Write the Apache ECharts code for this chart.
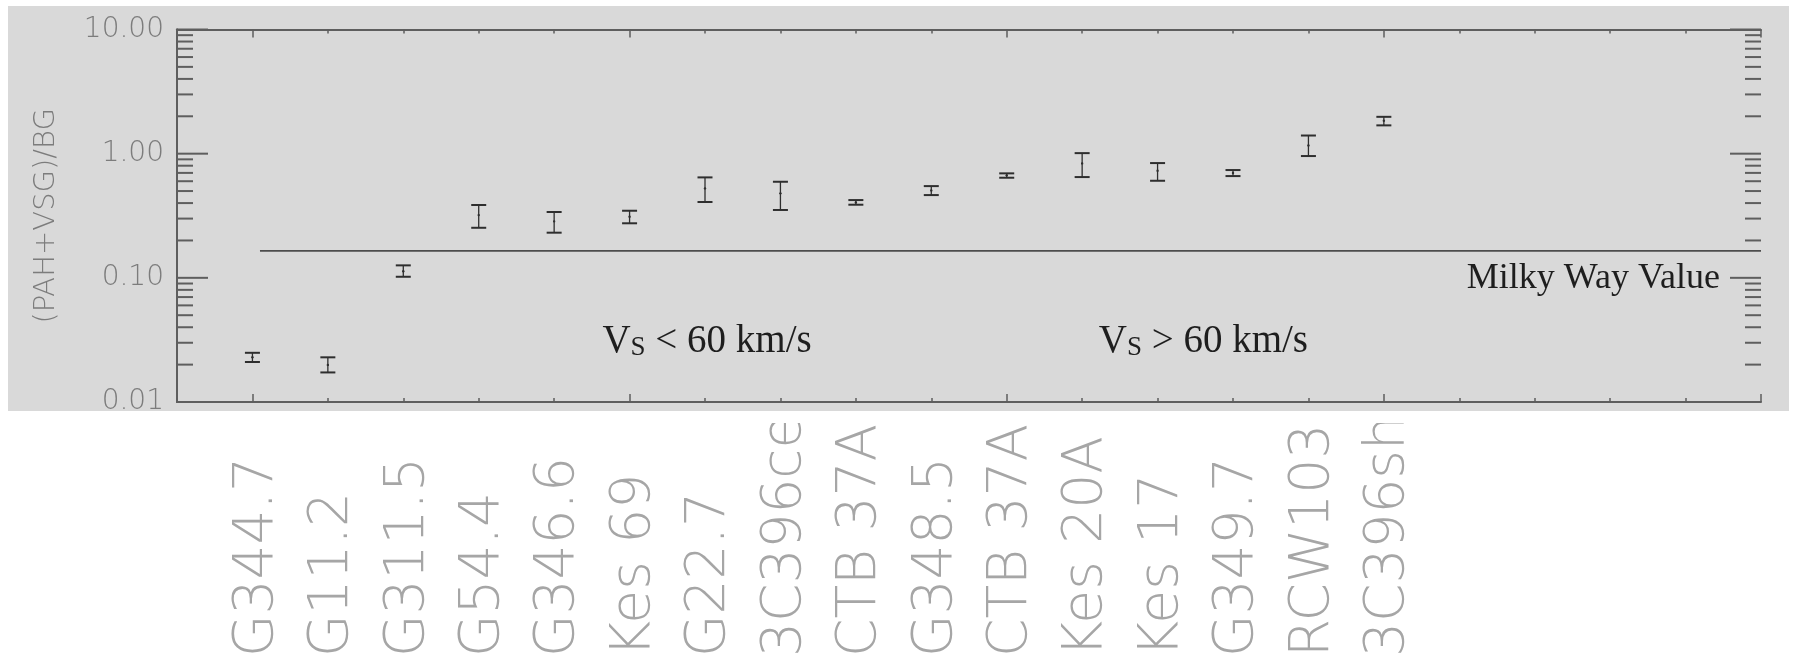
<!DOCTYPE html>
<html><head><meta charset="utf-8">
<script src="https://cdn.jsdelivr.net/npm/echarts@6/dist/echarts.min.js"></script>
<style>html,body{margin:0;padding:0;background:#fff;}#c{width:1793px;height:660px;}</style>
</head><body><div id="c"></div>
<script>
// ---- data ----
const categories = ['G344.7','G11.2','G311.5','G54.4','G346.6','Kes 69','G22.7','3C396center','CTB 37A','G348.5','CTB 37A','Kes 20A','Kes 17','G349.7','RCW103','3C396shell'];
const centerValues = [0.0229, 0.0199, 0.113, 0.320, 0.285, 0.310, 0.525, 0.479, 0.405, 0.506, 0.669, 0.835, 0.729, 0.698, 1.166, 1.84];
const lowerValues  = [0.0210, 0.0173, 0.102, 0.253, 0.231, 0.275, 0.408, 0.352, 0.388, 0.464, 0.640, 0.648, 0.605, 0.660, 0.957, 1.69];
const upperValues  = [0.0249, 0.0229, 0.126, 0.386, 0.339, 0.347, 0.644, 0.594, 0.423, 0.548, 0.694, 1.010, 0.840, 0.738, 1.400, 1.98];
const yMajorTickValues = [0.01, 0.1, 1, 10];
const yMinorTickValues = [0.02,0.03,0.04,0.05,0.06,0.07,0.08,0.09,0.2,0.3,0.4,0.5,0.6,0.7,0.8,0.9,2,3,4,5,6,7,8,9];
const milkyWayValue = 0.165;
const milkyWayRange = [1.1, 21];
const annotationTexts = ['lt', 'gt', 'mw'];
const annotationX = [5.64, 12.22, 17.10];
const annotationY = [0.0307, 0.0307, 0.0980];
const yAxisTitle = '(PAH+VSG)/BG';

// ---- chart ----
const X_MIN = 0, X_MAX = 21, X_MAJOR_START = 1, X_MAJOR_STEP = 5;
const PLOT_W = 1584;
const chart = echarts.init(document.getElementById('c'), null, {renderer: 'canvas'});
const axisColor = '#5e5e5e';
const serif = 'Liberation Serif';

function richFor(key) {
  if (key === 'mw') return 'Milky Way Value';
  return '{v|V}{s|S}{t| ' + (key === 'lt' ? '<' : '>') + ' 60 km/s}';
}

const tickData = yMajorTickValues.map(v => [X_MIN, v, 1]).concat(yMinorTickValues.map(v => [X_MIN, v, 0]));

const option = {
  animation: false,
  backgroundColor: '#ffffff',
  graphic: [
    {type: 'rect', z: -100, shape: {x: 8, y: 6, width: 1781, height: 405}, style: {fill: '#d9d9d9'}},
    {type: 'rect', z: 100, shape: {x: 0, y: 411, width: 1793, height: 12}, style: {fill: '#ffffff'}}
  ],
  grid: [
    {left: 177, right: 32, top: 29.5, bottom: 258},
    {left: 177 + (PLOT_W / (X_MAX - X_MIN)) * (X_MAJOR_START - X_MIN), right: 32, top: 29.5, bottom: 258},
    {left: 182, right: 27, top: 29.5, bottom: 258}
  ],
  xAxis: [
    {
      gridIndex: 0, type: 'value', position: 'bottom', min: X_MIN, max: X_MAX, interval: 1,
      splitLine: {show: false},
      axisLine: {show: true, lineStyle: {color: axisColor, width: 2}},
      axisTick: {show: true, inside: true, length: 4, lineStyle: {color: axisColor, width: 1.5}},
      axisLabel: {show: false}
    },
    {
      gridIndex: 0, type: 'value', position: 'top', min: X_MIN, max: X_MAX, interval: 1,
      splitLine: {show: false},
      axisLine: {show: true, lineStyle: {color: axisColor, width: 2}},
      axisTick: {show: true, inside: true, length: 4, lineStyle: {color: axisColor, width: 1.5}},
      axisLabel: {show: false}
    },
    {
      gridIndex: 1, type: 'value', position: 'bottom', min: X_MAJOR_START, max: X_MAX, interval: X_MAJOR_STEP,
      splitLine: {show: false}, axisLine: {show: false},
      axisTick: {show: true, inside: true, length: 8, lineStyle: {color: axisColor, width: 1.5}},
      axisLabel: {show: false}
    },
    {
      gridIndex: 1, type: 'value', position: 'top', min: X_MAJOR_START, max: X_MAX, interval: X_MAJOR_STEP,
      splitLine: {show: false}, axisLine: {show: false},
      axisTick: {show: true, inside: true, length: 8, lineStyle: {color: axisColor, width: 1.5}},
      axisLabel: {show: false}
    },
    {
      gridIndex: 2, type: 'value', position: 'bottom', min: X_MIN, max: X_MAX, interval: 1,
      splitLine: {show: false}, axisLine: {show: false}, axisTick: {show: false},
      axisLabel: {
        show: true, rotate: 90, align: 'left', verticalAlign: 'middle', margin: 263,
        fontSize: 55, fontFamily: 'DejaVu Sans', fontWeight: 200, color: '#a6a6a6',
        width: 246, overflow: 'truncate', ellipsis: '',
        formatter: function (v) { const i = Math.round(v) - 1; return (i >= 0 && i < categories.length) ? categories[i] : ''; }
      }
    }
  ],
  yAxis: [
    {
      gridIndex: 0, type: 'log', logBase: 10, min: 0.01, max: 10, position: 'left',
      name: yAxisTitle, nameLocation: 'middle', nameRotate: 90, nameGap: 116,
      nameTextStyle: {fontSize: 29, fontFamily: 'DejaVu Sans', fontWeight: 200, color: '#7c7c7c'},
      splitLine: {show: false}, minorTick: {show: false},
      axisLine: {show: true, lineStyle: {color: axisColor, width: 2}},
      axisTick: {show: false},
      axisLabel: {show: true, fontSize: 28, margin: 13, fontFamily: 'DejaVu Sans', fontWeight: 200, color: '#7c7c7c',
        formatter: v => Number(v).toFixed(2)}
    },
    {
      gridIndex: 0, type: 'log', logBase: 10, min: 0.01, max: 10, position: 'right',
      splitLine: {show: false}, minorTick: {show: false},
      axisLine: {show: true, lineStyle: {color: axisColor, width: 2}},
      axisTick: {show: false},
      axisLabel: {show: false}
    },
    {gridIndex: 1, type: 'value', show: false, min: 0, max: 1},
    {gridIndex: 2, type: 'value', show: false, min: 0, max: 1}
  ],
  series: [
    {
      type: 'custom', name: 'yTicks', xAxisIndex: 0, yAxisIndex: 0, silent: true, clip: false, z: 5,
      data: tickData,
      encode: {x: 0, y: 1},
      renderItem: function (params, api) {
        const v = api.value(1);
        const len = api.value(2) ? 31 : 16;
        const l = api.coord([X_MIN, v]);
        const r = api.coord([X_MAX, v]);
        const st = {stroke: axisColor, lineWidth: 2};
        return {type: 'group', children: [
          {type: 'line', shape: {x1: l[0], y1: l[1], x2: l[0] + len, y2: l[1]}, style: st},
          {type: 'line', shape: {x1: r[0] - len, y1: r[1], x2: r[0], y2: r[1]}, style: st}
        ]};
      }
    },
    {
      type: 'line', name: 'Milky Way', xAxisIndex: 0, yAxisIndex: 0, symbol: 'none',
      lineStyle: {color: '#4d4d4d', width: 1.6},
      data: [[milkyWayRange[0], milkyWayValue], [milkyWayRange[1], milkyWayValue]]
    },
    {
      type: 'custom', name: 'errorbars', xAxisIndex: 0, yAxisIndex: 0,
      data: categories.map((c, i) => [i + 1, lowerValues[i], upperValues[i], centerValues[i]]),
      encode: {x: 0, y: [1, 2, 3]},
      renderItem: function (params, api) {
        const x = api.value(0);
        const lo = api.coord([x, api.value(1)]);
        const hi = api.coord([x, api.value(2)]);
        const c = api.coord([x, api.value(3)]);
        const hw = 7.5;
        const st = {stroke: '#2e2e2e', lineWidth: 1.3};
        const cap = {stroke: '#2e2e2e', lineWidth: 2};
        return {type: 'group', children: [
          {type: 'line', shape: {x1: lo[0], y1: lo[1], x2: hi[0], y2: hi[1]}, style: st},
          {type: 'line', shape: {x1: hi[0] - hw, y1: hi[1], x2: hi[0] + hw, y2: hi[1]}, style: cap},
          {type: 'line', shape: {x1: lo[0] - hw, y1: lo[1], x2: lo[0] + hw, y2: lo[1]}, style: cap},
          {type: 'circle', shape: {cx: c[0], cy: c[1], r: 1.2}, style: {fill: '#2e2e2e'}}
        ]};
      }
    },
    {
      type: 'custom', name: 'annotations', xAxisIndex: 0, yAxisIndex: 0, silent: true,
      data: annotationTexts.map((t, i) => [annotationX[i], annotationY[i], i]),
      encode: {x: 0, y: 1},
      renderItem: function (params, api) {
        const p = api.coord([api.value(0), api.value(1)]);
        const key = annotationTexts[api.value(2)];
        const isMw = key === 'mw';
        return {type: 'text', x: p[0], y: p[1], style: {
          text: richFor(key), align: 'left', verticalAlign: 'middle',
          fill: '#1e1e1e', fontFamily: serif, fontSize: isMw ? 36 : 39,
          rich: {
            v: {fontFamily: serif, fontSize: 39, fill: '#1e1e1e', verticalAlign: 'bottom', lineHeight: 39},
            s: {fontFamily: serif, fontSize: 27, fill: '#1e1e1e', verticalAlign: 'bottom', lineHeight: 27},
            t: {fontFamily: serif, fontSize: 39, fill: '#1e1e1e', verticalAlign: 'bottom', lineHeight: 39}
          }
        }};
      }
    }
  ]
};
chart.setOption(option);
</script>
</body></html>
